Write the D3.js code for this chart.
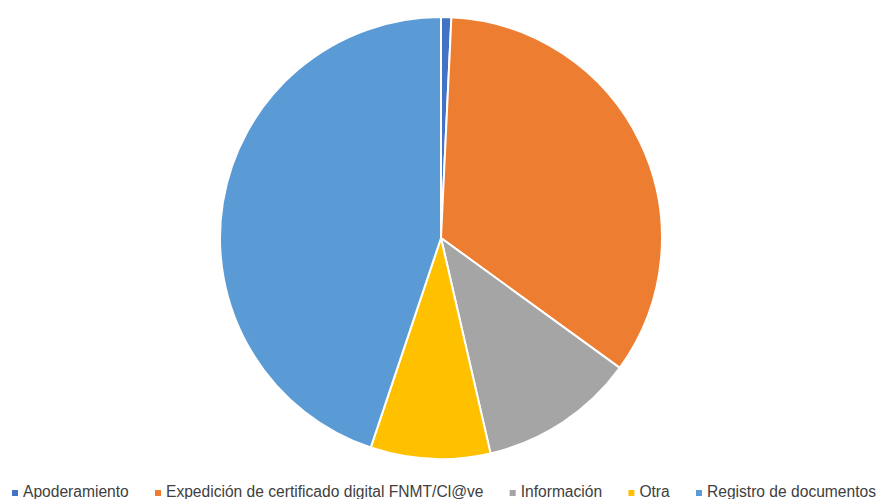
<!DOCTYPE html>
<html>
<head>
<meta charset="utf-8">
<script src="https://cdn.jsdelivr.net/npm/d3@7"></script>
<style>
  html, body { margin: 0; padding: 0; background: #ffffff; }
  svg { display: block; }
</style>
</head>
<body>
<svg id="chart" width="881" height="499"></svg>
<script>
// Share of requests by type (percent)
const categories = [
  "Apoderamiento",
  "Expedición de certificado digital FNMT/Cl@ve",
  "Información",
  "Otra",
  "Registro de documentos"
];
const values = [0.75, 34.25, 11.4, 8.75, 44.85];
const colors = ["#4472C4", "#ED7D31", "#A5A5A5", "#FFC000", "#5B9BD5"];

const width = 881, height = 499;
const svg = d3.select("#chart");
const cx = 441, cy = 238, radius = 221;

const data = categories.map((c, i) => ({ name: c, value: values[i], color: colors[i] }));

const pie = d3.pie().value(d => d.value).sort(null);
const arc = d3.arc().innerRadius(0).outerRadius(radius);

svg.append("g")
  .attr("transform", `translate(${cx},${cy})`)
  .selectAll("path")
  .data(pie(data))
  .join("path")
  .attr("d", arc)
  .attr("fill", d => d.data.color)
  .attr("stroke", "#ffffff")
  .attr("stroke-width", 2)
  .attr("stroke-linejoin", "round");

// Legend along the bottom edge, spread across the full width
const legend = svg.append("g").attr("class", "legend");
const fontFamily = "'Liberation Sans', Arial, sans-serif";
const fontSize = 15.6;
const markerSize = 6;
const textOffset = 11;
const legendLeft = 12, legendRight = width - 5;
const items = legend.selectAll("g.item")
  .data(data)
  .join("g")
  .attr("class", "item");

items.append("rect")
  .attr("width", markerSize)
  .attr("height", markerSize)
  .attr("y", -7)
  .attr("fill", d => d.color);

items.append("text")
  .attr("x", textOffset)
  .attr("y", 0)
  .attr("font-family", fontFamily)
  .attr("font-size", fontSize)
  .attr("fill", "#404040")
  .text(d => d.name);

const widths = [];
items.each(function () {
  widths.push(textOffset + d3.select(this).select("text").node().getComputedTextLength());
});
const gap = Math.max(12, (legendRight - legendLeft - d3.sum(widths)) / (widths.length - 1));
let x = 0;
items.each(function (d, i) {
  d3.select(this).attr("transform", `translate(${x},0)`);
  x += widths[i] + gap;
});
legend.attr("transform", `translate(${legendLeft},497)`);
</script>
</body>
</html>
